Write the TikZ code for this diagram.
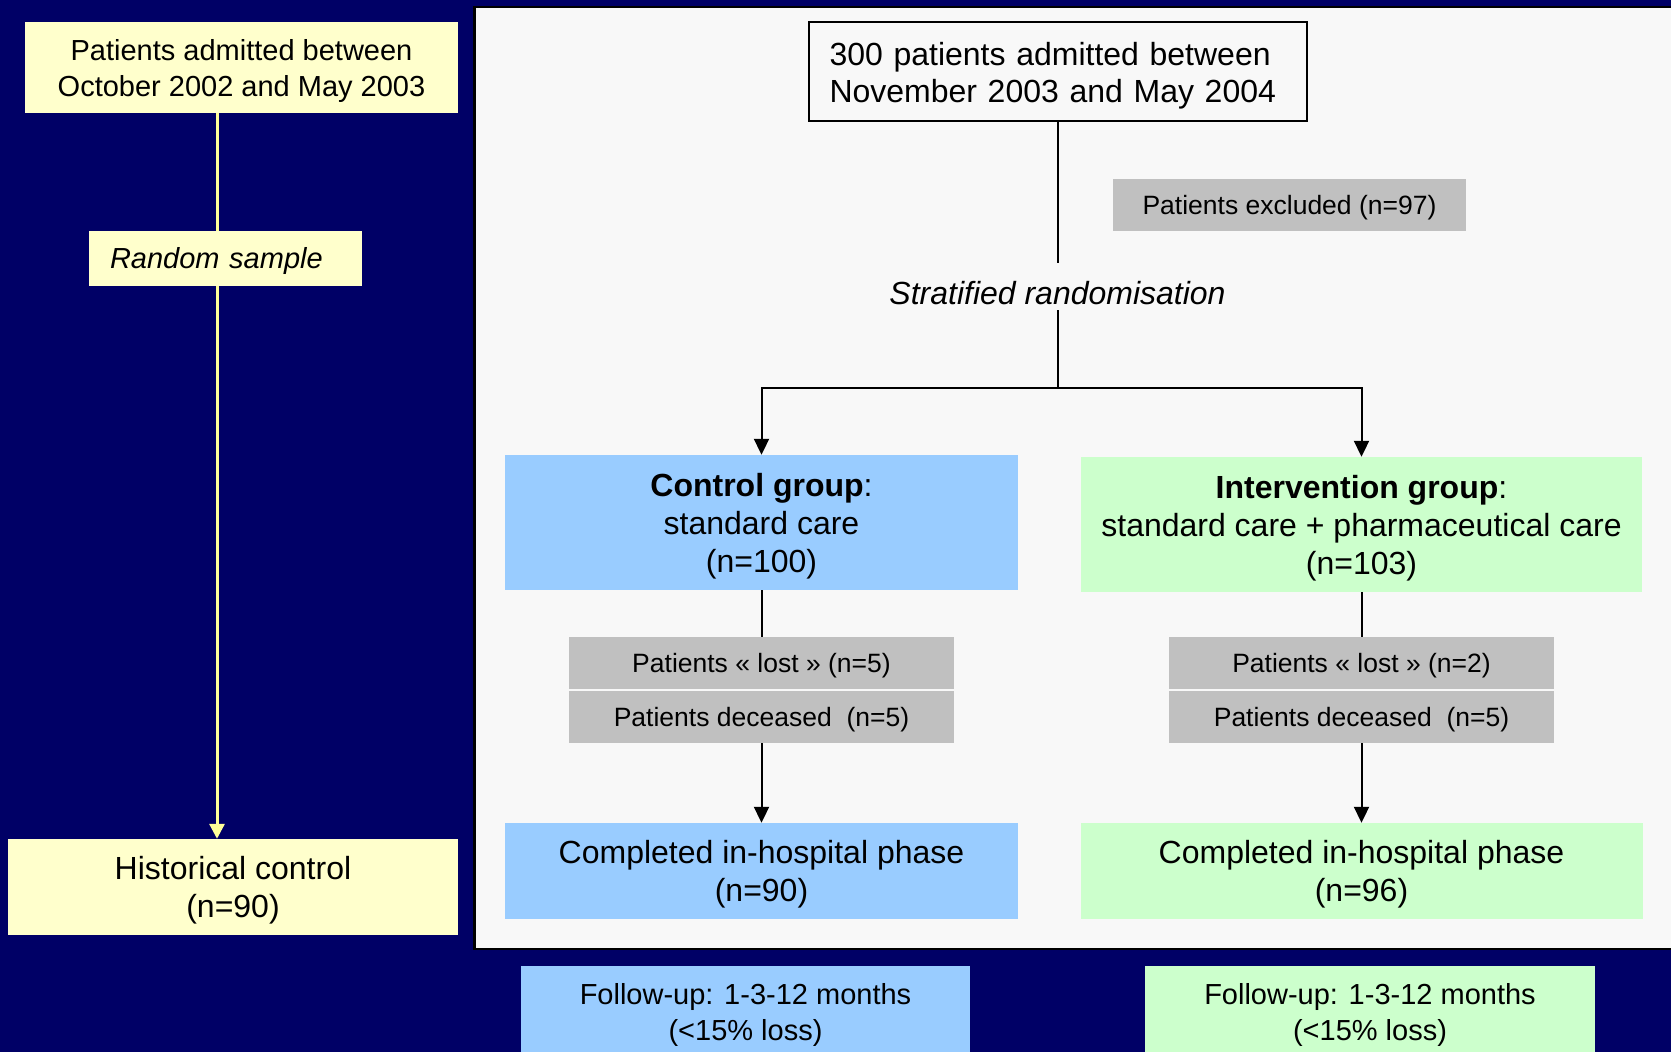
\documentclass[tikz,border=0pt]{standalone}
\usepackage{fontspec}
\setmainfont{Liberation Sans}
\usetikzlibrary{arrows.meta}
\definecolor{navybg}{HTML}{000066}
\definecolor{pale}{HTML}{FFFFCC}
\definecolor{lemon}{HTML}{FFFF99}
\definecolor{skyblue}{HTML}{99CCFF}
\definecolor{mint}{HTML}{CCFFCC}
\definecolor{silver}{HTML}{C0C0C0}
\definecolor{panelgrey}{HTML}{F8F8F8}

\begin{document}
\begin{tikzpicture}[x=1pt, y=1pt, >={Triangle[length=16pt, width=15pt]},
    box/.style={rectangle, inner sep=0pt, align=center, text depth=-2pt, font=\fontsize{32}{38}\selectfont},
    yellow node/.style={box, fill=pale},
    small yellow/.style={yellow node, font=\fontsize{29}{36}\selectfont},
    blue node/.style={box, fill=skyblue},
    green node/.style={box, fill=mint},
    grey node/.style={box, fill=silver, font=\fontsize{26.5}{32}\selectfont, minimum width=385pt, minimum height=52pt},
    follow node/.style={box, font=\fontsize{29}{36}\selectfont, minimum height=92pt},
    connector/.style={draw=black, line width=2pt},
    yconnector/.style={draw=lemon, line width=3pt}]

    \useasboundingbox (0,0) rectangle (1671,-1052);
    \clip (0,0) rectangle (1671,-1052);
    \fill[navybg] (0,0) rectangle (1671,-1052);

    % historical arm
    \node[small yellow, minimum width=433pt, minimum height=91pt] (adm) at (241.5,-67.5)
        {Patients admitted between\\October 2002 and May 2003};
    \node[small yellow, font=\fontsize{29}{36}\selectfont\itshape, text width=231pt, align=left,
        inner xsep=21pt, minimum height=55pt, text depth=2pt] (rnd) at (225.5,-258.5) {Random sample};
    \node[yellow node, minimum width=450pt, minimum height=96pt] (hist) at (233,-887)
        {Historical control\\(n=90)};

    \coordinate (ycol) at (217,0);
    \draw[yconnector] (adm.south -| ycol) -- (rnd.north -| ycol);
    \draw[yconnector, ->, >={Triangle[length=15pt, width=15pt]}] (rnd.south -| ycol) -- (hist.north -| ycol);

    % trial panel
    \draw[fill=panelgrey, draw=black, line width=2.5pt] (474.5,-7) rectangle (1700,-949);

    \node[box, draw=black, line width=2pt, text width=456pt, align=left, inner xsep=21pt,
        minimum height=99pt, text depth=36pt, font=\fontsize{32}{37}\selectfont] (top) at (1057.5,-71.5)
        {300 patients admitted between\\November 2003 and May 2004};
    \node[grey node, minimum width=353pt] (excl) at (1289.5,-205) {Patients excluded (n=97)};
    \node[box, font=\fontsize{32}{38}\selectfont\itshape, minimum height=47pt] (strat) at (1057.5,-293)
        {Stratified randomisation};
    \coordinate (split) at (1057.5,-388);

    \node[blue node, minimum width=513pt, minimum height=135pt] (ctrl) at (761.5,-522.5)
        {\textbf{Control group}:\\standard care\\(n=100)};
    \node[green node, minimum width=561pt, minimum height=135pt] (intv) at (1361.5,-524.5)
        {\textbf{Intervention group}:\\standard care + pharmaceutical care\\(n=103)};

    \node[grey node] (lostC) at (761.5,-663) {Patients « lost » (n=5)};
    \node[grey node] (deadC) at (761.5,-717) {Patients deceased~ (n=5)};
    \node[grey node] (lostI) at (1361.5,-663) {Patients « lost » (n=2)};
    \node[grey node] (deadI) at (1361.5,-717) {Patients deceased~ (n=5)};

    \node[blue node, minimum width=513pt, minimum height=96pt] (compC) at (761.5,-871)
        {Completed in-hospital phase\\(n=90)};
    \node[green node, minimum width=562pt, minimum height=96pt] (compI) at (1361.5,-871)
        {Completed in-hospital phase\\(n=96)};

    \node[follow node, fill=skyblue, minimum width=449pt] (fupC) at (745.5,-1012)
        {Follow-up: 1-3-12 months\\(<15\% loss)};
    \node[follow node, fill=mint, minimum width=450pt] (fupI) at (1370,-1012)
        {Follow-up: 1-3-12 months\\(<15\% loss)};

    \draw[connector] (top.south) -- ([yshift=6.5pt]strat.north);
    \draw[connector] ([yshift=6.5pt]strat.south) -- (split);
    \draw[connector, ->] (split) -| (ctrl.north);
    \draw[connector, ->] (split) -| (intv.north);
    \draw[connector] (ctrl.south) -- (lostC.north);
    \draw[connector] (intv.south) -- (lostI.north);
    \draw[connector, ->] (deadC.south) -- (compC.north);
    \draw[connector, ->] (deadI.south) -- (compI.north);

\end{tikzpicture}
\end{document}
